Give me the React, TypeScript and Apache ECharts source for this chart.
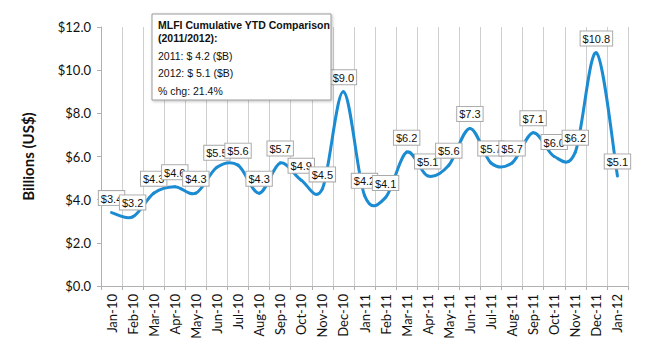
import React, { useEffect, useRef } from "react";
import * as echarts from "echarts";

const categories = [
  "Jan-10", "Feb-10", "Mar-10", "Apr-10", "May-10", "Jun-10", "Jul-10", "Aug-10",
  "Sep-10", "Oct-10", "Nov-10", "Dec-10", "Jan-11", "Feb-11", "Mar-11", "Apr-11",
  "May-11", "Jun-11", "Jul-11", "Aug-11", "Sep-11", "Oct-11", "Nov-11", "Dec-11", "Jan-12",
];
const values = [
  3.4, 3.2, 4.3, 4.6, 4.3, 5.5, 5.6, 4.3, 5.7, 4.9, 4.5, 9.0, 4.2, 4.1, 6.2, 5.1,
  5.6, 7.3, 5.7, 5.7, 7.1, 6.0, 6.2, 10.8, 5.1,
];
const boxLines = [
  "MLFI Cumulative YTD Comparison",
  "(2011/2012):",
  "2011: $ 4.2 ($B)",
  "2012: $ 5.1 ($B)",
  "% chg: 21.4%",
];

const LINE_COLOR = "#1b8bd2";

export default function App() {
  const ref = useRef<HTMLDivElement>(null);
  useEffect(() => {
    if (!ref.current) return;
    const chart = echarts.init(ref.current, null, { renderer: "svg" });
    const n = values.length;
    const renderSegment = (params: any, api: any) => {
      const i = params.dataIndex;
      if (i >= n - 1) return { type: "group", children: [] };
      const i0 = Math.max(0, i - 1);
      const i3 = Math.min(n - 1, i + 2);
      const p0 = api.coord([i0, values[i0]]);
      const p1 = api.coord([i, values[i]]);
      const p2 = api.coord([i + 1, values[i + 1]]);
      const p3 = api.coord([i3, values[i3]]);
      const t = 1 / 6;
      return {
        type: "bezierCurve",
        shape: {
          x1: p1[0],
          y1: p1[1],
          cpx1: p1[0] + (p2[0] - p0[0]) * t,
          cpy1: p1[1] + (p2[1] - p0[1]) * t,
          cpx2: p2[0] - (p3[0] - p1[0]) * t,
          cpy2: p2[1] - (p3[1] - p1[1]) * t,
          x2: p2[0],
          y2: p2[1],
        },
        style: { stroke: LINE_COLOR, lineWidth: 3, fill: "none", lineCap: "round" },
      };
    };
    chart.setOption({
      animation: false,
      backgroundColor: "#ffffff",
      grid: { left: 101, right: 22, top: 27, bottom: 64, containLabel: false },
      xAxis: {
        type: "category",
        data: categories,
        boundaryGap: true,
        axisLine: { lineStyle: { color: "#b0b0b0", width: 1 } },
        axisTick: { show: true, length: 4, lineStyle: { color: "#b0b0b0" } },
        axisLabel: {
          rotate: 90,
          interval: 0,
          margin: 8,
          color: "#111",
          fontFamily: "Lato",
          fontSize: 13,
        },
        splitLine: { show: true, lineStyle: { color: "#cfcfcf", width: 1 } },
      },
      yAxis: {
        type: "value",
        min: 0,
        max: 12,
        interval: 2,
        name: "Billions (US$)",
        nameLocation: "middle",
        nameGap: 66,
        nameRotate: 90,
        nameTextStyle: {
          fontFamily: "Lato",
          fontWeight: "bold",
          fontSize: 15,
          color: "#111",
        },
        axisLine: { show: true, lineStyle: { color: "#b0b0b0" } },
        axisTick: { show: true, length: 4, lineStyle: { color: "#b0b0b0" } },
        splitLine: { show: false },
        axisLabel: {
          formatter: (v: number) => "$" + v.toFixed(1),
          color: "#111",
          fontFamily: "Lato",
          fontSize: 13,
          margin: 10,
        },
      },
      series: [
        {
          type: "custom",
          data: values.map((v, i) => [i, v]),
          encode: { x: 0, y: 1 },
          renderItem: renderSegment,
          z: 2,
          silent: true,
        },
        {
          type: "scatter",
          data: values,
          symbol: "circle",
          symbolSize: 1,
          itemStyle: { color: "rgba(0,0,0,0)" },
          z: 5,
          silent: true,
          label: {
            show: true,
            position: "top",
            distance: 7,
            formatter: (p: any) => "$" + Number(p.value).toFixed(1),
            fontFamily: "Liberation Sans",
            fontSize: 11,
            color: "#111",
            opacity: 1,
            backgroundColor: "#ffffff",
            borderColor: "#aaaaaa",
            borderWidth: 1,
            padding: [2, 2, 1, 2],
          },
        },
      ],
      graphic: [
        {
          type: "rect",
          shape: { x: 152, y: 14, width: 179, height: 86 },
          style: {
            fill: "#ffffff",
            stroke: "#9a9a9a",
            lineWidth: 1,
            shadowBlur: 3,
            shadowOffsetX: 1,
            shadowOffsetY: 1,
            shadowColor: "rgba(0,0,0,0.25)",
          },
          z: 100,
        },
        {
          type: "text",
          x: 158,
          y: 18,
          style: {
            text: boxLines[0] + "\n" + boxLines[1],
            fontFamily: "Liberation Sans",
            fontWeight: "bold",
            fontSize: 10.5,
            lineHeight: 13,
            fill: "#111",
          },
          z: 101,
        },
        {
          type: "text",
          x: 158,
          y: 50,
          style: { text: boxLines[2], fontFamily: "Liberation Sans", fontSize: 10.5, fill: "#111" },
          z: 101,
        },
        {
          type: "text",
          x: 158,
          y: 67,
          style: { text: boxLines[3], fontFamily: "Liberation Sans", fontSize: 10.5, fill: "#111" },
          z: 101,
        },
        {
          type: "text",
          x: 158,
          y: 85,
          style: { text: boxLines[4], fontFamily: "Liberation Sans", fontSize: 10.5, fill: "#111" },
          z: 101,
        },
      ],
    });
    return () => chart.dispose();
  }, []);
  return (
    <div
      ref={ref}
      style={{ position: "fixed", left: 0, top: 0, width: 650, height: 350 }}
    />
  );
}
